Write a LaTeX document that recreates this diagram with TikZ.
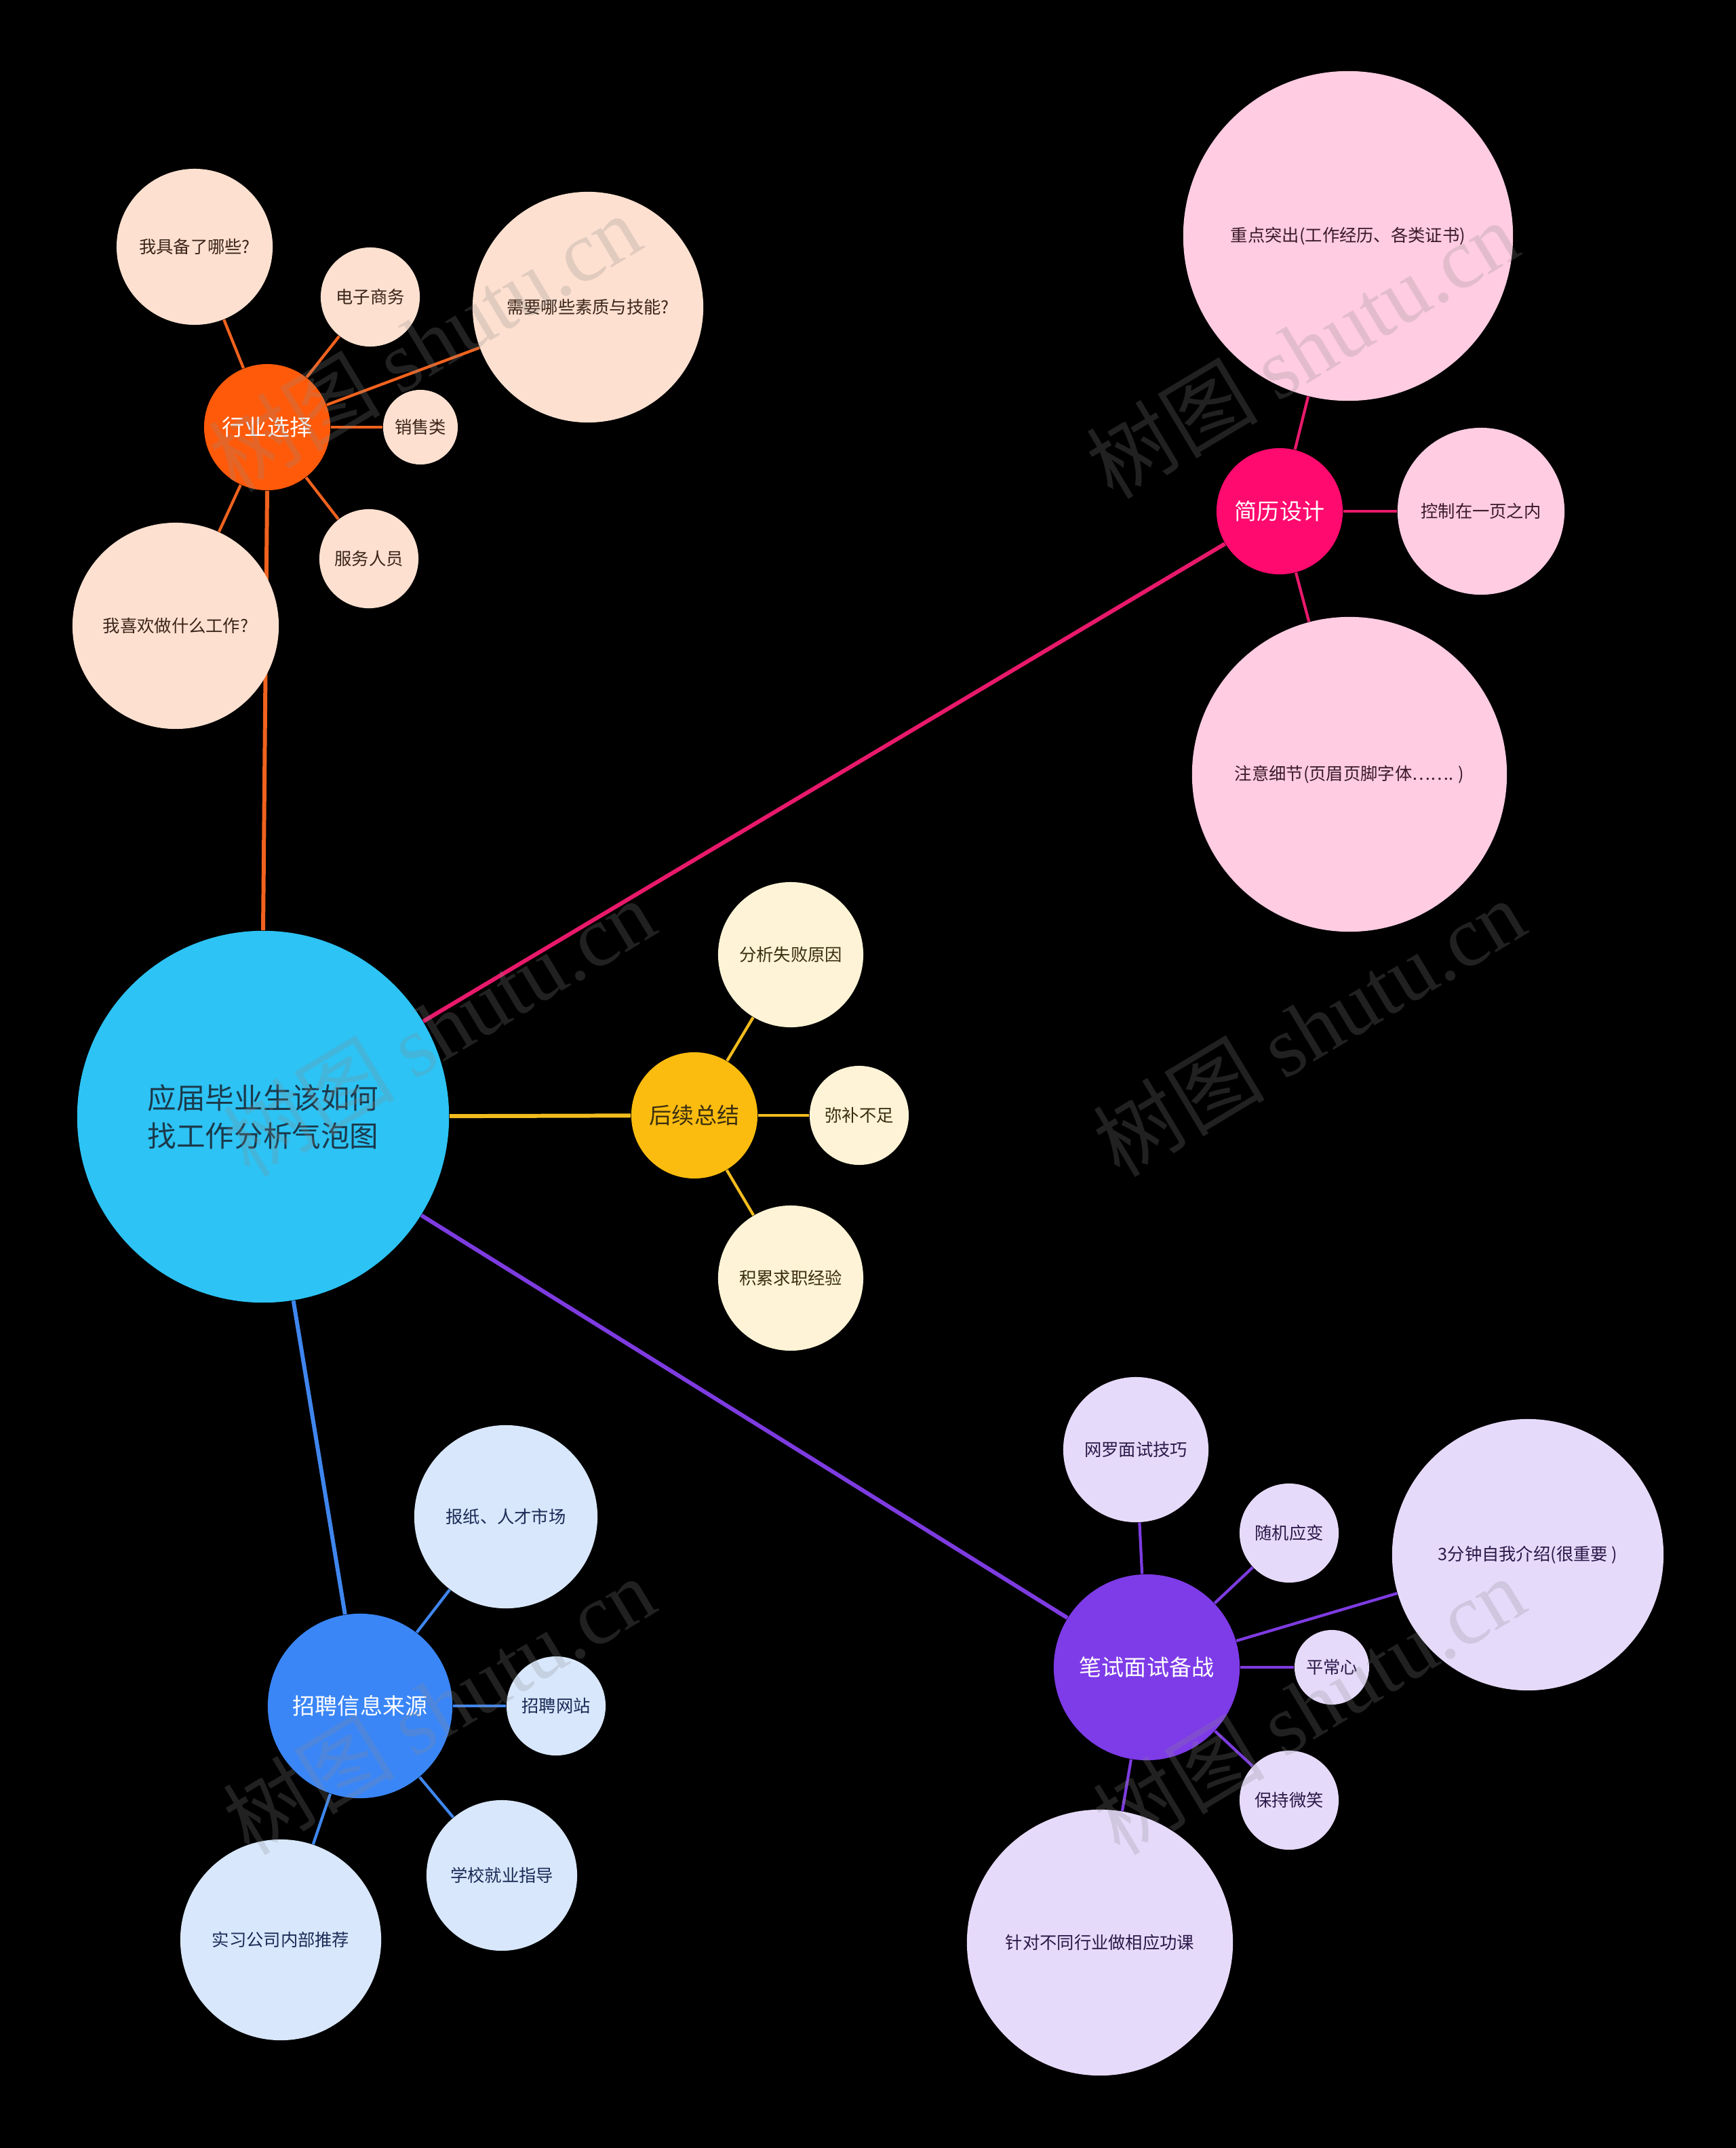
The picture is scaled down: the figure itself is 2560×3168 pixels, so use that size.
\documentclass[tikz,border=0pt]{standalone}
\usepackage{fontspec}
\setmainfont{Noto Sans CJK SC}
\newfontfamily\wmlatin{Liberation Serif}
\usetikzlibrary{positioning}
\definecolor{cCenter}{HTML}{2DC3F4}
\definecolor{cCenterT}{HTML}{1B3A4C}
\definecolor{cOr}{HTML}{FF5A0A}
\definecolor{cOrE}{HTML}{F0621E}
\definecolor{cOrL}{HTML}{FDE0D0}
\definecolor{cOrT}{HTML}{3A2418}
\definecolor{cPk}{HTML}{FF0A6E}
\definecolor{cPkE}{HTML}{E8196B}
\definecolor{cPkL}{HTML}{FFCCE2}
\definecolor{cPkT}{HTML}{3A1A28}
\definecolor{cYe}{HTML}{FBBC0F}
\definecolor{cYeE}{HTML}{F2BC1E}
\definecolor{cYeL}{HTML}{FEF3D6}
\definecolor{cYeT}{HTML}{3A2E10}
\definecolor{cBl}{HTML}{3A86F7}
\definecolor{cBlE}{HTML}{3F86EE}
\definecolor{cBlL}{HTML}{D8E7FC}
\definecolor{cBlT}{HTML}{1A2A55}
\definecolor{cPu}{HTML}{7E3BE8}
\definecolor{cPuE}{HTML}{7D3BE0}
\definecolor{cPuL}{HTML}{E6DAFA}
\definecolor{cPuT}{HTML}{2A1848}
\definecolor{cWm}{HTML}{8A8A8A}
\pgfdeclarelayer{bg}
\pgfdeclarelayer{edges}
\pgfsetlayers{bg,edges,main}
\tikzset{
  bubble/.style={circle, inner sep=0pt, minimum size=#1*0.02cm, align=center},
  leaftxt/.style={font=\fontsize{7.2pt}{9pt}\selectfont},
  brtxt/.style={font=\fontsize{9.4pt}{11pt}\selectfont},
  mainedge/.style={line width=1.7pt},
  leafedge/.style={line width=1.2pt},
  wmark/.style={rotate=31, text=cWm, opacity=0.24, font=\fontsize{36pt}{40pt}\selectfont}
}
\begin{document}
\begin{tikzpicture}[x=0.01cm, y=-0.01cm]
\begin{pgfonlayer}{bg}
\fill[black] (0,0) rectangle (2560,3168);
\end{pgfonlayer}
\useasboundingbox (0,0) rectangle (2560,3168);

% center
\node[bubble=274, fill=cCenter, text=cCenterT, font=\fontsize{12.1pt}{16pt}\selectfont] (C) at (388,1647) {应届毕业生该如何\\找工作分析气泡图};

% industry
\node[bubble=93, fill=cOr, text=white, brtxt] (IND) at (394,630) {行业选择};
\node[bubble=115, fill=cOrL, text=cOrT, leaftxt] (I1) at (287,364) {我具备了哪些?};
\node[bubble=73, fill=cOrL, text=cOrT, leaftxt] (I2) at (546,438) {电子商务};
\node[bubble=170, fill=cOrL, text=cOrT, leaftxt] (I3) at (867,453) {需要哪些素质与技能?};
\node[bubble=55, fill=cOrL, text=cOrT, leaftxt] (I4) at (620,630) {销售类};
\node[bubble=73, fill=cOrL, text=cOrT, leaftxt] (I5) at (544,824) {服务人员};
\node[bubble=152, fill=cOrL, text=cOrT, leaftxt] (I6) at (259,923) {我喜欢做什么工作?};

% resume
\node[bubble=93, fill=cPk, text=white, brtxt] (RES) at (1887,754) {简历设计};
\node[bubble=243, fill=cPkL, text=cPkT, leaftxt] (R1) at (1988,348) {重点突出(工作经历、各类证书)};
\node[bubble=123, fill=cPkL, text=cPkT, leaftxt] (R2) at (2184,754) {控制在一页之内};
\node[bubble=232, fill=cPkL, text=cPkT, leaftxt] (R3) at (1990,1142) {注意细节(页眉页脚字体……. )};

% summary
\node[bubble=93, fill=cYe, text=cYeT, brtxt] (SUM) at (1024,1645) {后续总结};
\node[bubble=107, fill=cYeL, text=cYeT, leaftxt] (S1) at (1166,1408) {分析失败原因};
\node[bubble=73, fill=cYeL, text=cYeT, leaftxt] (S2) at (1267,1645) {弥补不足};
\node[bubble=107, fill=cYeL, text=cYeT, leaftxt] (S3) at (1166,1885) {积累求职经验};

% recruiting info
\node[bubble=136, fill=cBl, text=white, brtxt] (REC) at (531,2516) {招聘信息来源};
\node[bubble=135, fill=cBlL, text=cBlT, leaftxt] (B1) at (746,2237) {报纸、人才市场};
\node[bubble=73, fill=cBlL, text=cBlT, leaftxt] (B2) at (820,2516) {招聘网站};
\node[bubble=111, fill=cBlL, text=cBlT, leaftxt] (B3) at (740,2766) {学校就业指导};
\node[bubble=148, fill=cBlL, text=cBlT, leaftxt] (B4) at (414,2861) {实习公司内部推荐};

% interview
\node[bubble=137, fill=cPu, text=white, brtxt] (INT) at (1691,2459) {笔试面试备战};
\node[bubble=107, fill=cPuL, text=cPuT, leaftxt] (P1) at (1675,2138) {网罗面试技巧};
\node[bubble=73, fill=cPuL, text=cPuT, leaftxt] (P2) at (1901,2261) {随机应变};
\node[bubble=200, fill=cPuL, text=cPuT, leaftxt] (P3) at (2253,2293) {3分钟自我介绍(很重要 )};
\node[bubble=55, fill=cPuL, text=cPuT, leaftxt] (P4) at (1964,2459) {平常心};
\node[bubble=73, fill=cPuL, text=cPuT, leaftxt] (P5) at (1901,2655) {保持微笑};
\node[bubble=196, fill=cPuL, text=cPuT, leaftxt] (P6) at (1622,2865) {针对不同行业做相应功课};

\begin{pgfonlayer}{edges}
\draw[mainedge, cOrE] (C.north) -- (IND.south);
\foreach \n in {I1,I2,I3,I4,I5,I6} \draw[leafedge, cOrE] (IND) -- (\n);
\draw[mainedge, cPkE] (C) -- (RES);
\foreach \n in {R1,R2,R3} \draw[leafedge, cPkE] (RES) -- (\n);
\draw[mainedge, cYeE] (C) -- (SUM);
\foreach \n in {S1,S2,S3} \draw[leafedge, cYeE] (SUM) -- (\n);
\draw[mainedge, cBlE] (C) -- (REC);
\foreach \n in {B1,B2,B3,B4} \draw[leafedge, cBlE] (REC) -- (\n);
\draw[mainedge, cPuE] (C) -- (INT);
\foreach \n in {P1,P2,P3,P4,P5,P6} \draw[leafedge, cPuE] (INT) -- (\n);
\end{pgfonlayer}

% watermarks
\node[wmark] (W1) at (626,505) {树图 {\wmlatin shutu.cn}};
\node[wmark] (W2) at (1920,515) {树图 {\wmlatin shutu.cn}};
\node[wmark] (W3) at (647,1515) {树图 {\wmlatin shutu.cn}};
\node[wmark] (W4) at (1930,1515) {树图 {\wmlatin shutu.cn}};
\node[wmark] (W5) at (647,2515) {树图 {\wmlatin shutu.cn}};
\node[wmark] (W6) at (1930,2515) {树图 {\wmlatin shutu.cn}};
\end{tikzpicture}
\end{document}
